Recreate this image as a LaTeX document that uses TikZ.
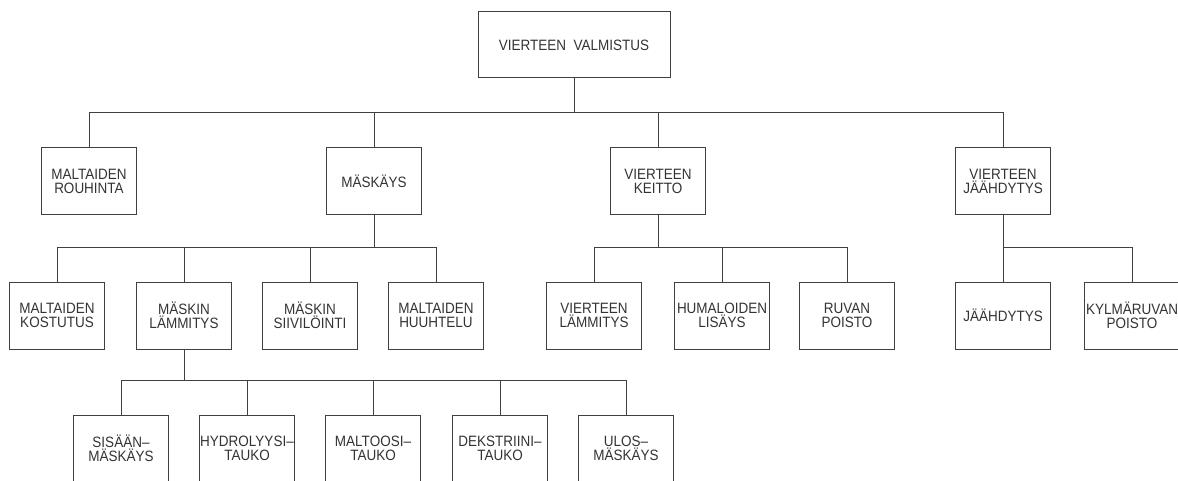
\documentclass[tikz,border=0pt]{standalone}
\usepackage{fontspec}
\setmainfont{Liberation Sans}[FakeStretch=0.9]
\begin{document}
\begin{tikzpicture}[x=1pt, y=-1pt,
	box/.style={draw=black!75, line width=1pt, minimum width=95pt, minimum height=67pt,
		inner sep=0pt, align=center, text=black!80, font=\fontsize{15}{14.5}\selectfont},
	link/.style={draw=black!75, line width=1pt}]
	\useasboundingbox (0,0) rectangle (1178,481);
	\clip (0,0) rectangle (1178,481);
	% top
	\node [box, minimum width=192pt, minimum height=66pt] (root) at (574,45) {VIERTEEN\ \ VALMISTUS};
	% first level
	\node [box] (rouh) at (89,181.5) {MALTAIDEN\\ROUHINTA};
	\node [box] (mask) at (374,181.5) {MÄSKÄYS};
	\node [box] (keit) at (658,181.5) {VIERTEEN\\KEITTO};
	\node [box] (jaah) at (1003,181.5) {VIERTEEN\\JÄÄHDYTYS};
	% second level
	\node [box] (kost) at (57,315.5) {MALTAIDEN\\KOSTUTUS};
	\node [box] (lamm) at (184,315.5) {MÄSKIN\\LÄMMITYS};
	\node [box] (siiv) at (310,315.5) {MÄSKIN\\SIIVILÖINTI};
	\node [box] (huuh) at (436,315.5) {MALTAIDEN\\HUUHTELU};
	\node [box] (vlam) at (594,315.5) {VIERTEEN\\LÄMMITYS};
	\node [box] (hlis) at (722,315.5) {HUMALOIDEN\\LISÄYS};
	\node [box] (rpoi) at (847,315.5) {RUVAN\\POISTO};
	\node [box] (jdyt) at (1003,315.5) {JÄÄHDYTYS};
	\node [box] (kpoi) at (1132,315.5) {KYLMÄRUVAN\\POISTO};
	% third level
	\node [box] (sisa) at (121,448.5) {SISÄÄN–\\MÄSKÄYS};
	\node [box] (hydr) at (247,448.5) {HYDROLYYSI–\\TAUKO};
	\node [box] (malt) at (373,448.5) {MALTOOSI–\\TAUKO};
	\node [box] (deks) at (500,448.5) {DEKSTRIINI–\\TAUKO};
	\node [box] (ulos) at (626,448.5) {ULOS–\\MÄSKÄYS};
	% bus lines
	\coordinate (bus0) at (0,113);
	\coordinate (bus1) at (0,248);
	\coordinate (bus2) at (0,380);
	\draw [link] (root.south) -- (root.south |- bus0);
	\draw [link] (rouh.north) -- (rouh.north |- bus0) -- (jaah.north |- bus0) -- (jaah.north);
	\foreach \c in {mask,keit}{
		\draw [link] (\c.north) -- (\c.north |- bus0);
	}
	\draw [link] (mask.south) -- (mask.south |- bus1);
	\draw [link] (kost.north) -- (kost.north |- bus1) -- (huuh.north |- bus1) -- (huuh.north);
	\foreach \c in {lamm,siiv}{
		\draw [link] (\c.north) -- (\c.north |- bus1);
	}
	\draw [link] (keit.south) -- (keit.south |- bus1);
	\draw [link] (vlam.north) -- (vlam.north |- bus1) -- (rpoi.north |- bus1) -- (rpoi.north);
	\draw [link] (hlis.north) -- (hlis.north |- bus1);
	\draw [link] (jaah.south) -- (jdyt.north);
	\draw [link] (jdyt.north |- bus1) -- (kpoi.north |- bus1) -- (kpoi.north);
	\draw [link] (lamm.south) -- (lamm.south |- bus2);
	\draw [link] (sisa.north) -- (sisa.north |- bus2) -- (ulos.north |- bus2) -- (ulos.north);
	\foreach \c in {hydr,malt,deks}{
		\draw [link] (\c.north) -- (\c.north |- bus2);
	}
\end{tikzpicture}
\end{document}
